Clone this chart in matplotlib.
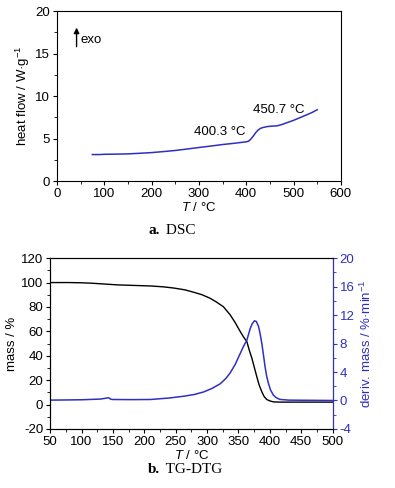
import matplotlib
matplotlib.use("Agg")
import matplotlib.pyplot as plt
from matplotlib.ticker import MultipleLocator

plt.rcParams['font.family'] = ['Liberation Sans', 'DejaVu Sans']
plt.rcParams['mathtext.fontset'] = 'custom'
plt.rcParams['mathtext.rm'] = 'Liberation Sans'
plt.rcParams['mathtext.it'] = 'Liberation Sans:italic'
plt.rcParams['axes.unicode_minus'] = False
plt.rcParams['font.size'] = 9.5

# DSC curve
dsc_t = [75, 90, 100, 125, 150, 175, 200, 225, 250, 275, 300, 325, 350, 375, 390, 400, 405,
         410, 415, 420, 425, 430, 435, 445, 455, 465, 475, 490, 500, 515, 530, 540, 550]
dsc_hf = [3.12, 3.12, 3.15, 3.17, 3.2, 3.27, 3.35, 3.47, 3.6, 3.77, 3.95, 4.12, 4.3, 4.45, 4.55, 4.62, 4.7,
          4.95, 5.3, 5.7, 6.0, 6.2, 6.3, 6.42, 6.47, 6.5, 6.65, 6.95, 7.15, 7.5, 7.85, 8.1, 8.4]

# TG curve (mass %)
tg_t = [50, 80, 100, 115, 130, 157, 180, 210, 230, 247, 265, 279, 292, 305, 315, 326, 337, 345,
        353, 358, 363.5, 367, 371.5, 375, 379.3, 383, 387.3, 391, 395.2, 400, 405.7, 415, 500]
tg_mass = [100, 100, 99.8, 99.5, 99, 98.1, 97.7, 97.2, 96.5, 95.5, 94, 92, 90, 87.1, 84, 80.2, 73.4, 67,
           59.7, 55.5, 51.5, 45, 37.8, 31, 22.7, 16, 10.4, 6.5, 4.1, 3, 2.2, 2.0, 2.0]

# DTG curve (%/min)
dtg_t = [50, 100, 130, 136, 140, 143.7, 146, 149, 180, 210, 240, 263, 280, 294.6, 308, 321, 330,
         337, 345, 352.8, 358, 363.5, 368.7, 372, 375.6, 378.5, 382, 384.5, 387.3, 390, 392.5,
         395, 397.8, 401, 405.7, 410, 416, 430, 500]
dtg_rate = [0.05, 0.1, 0.2, 0.28, 0.35, 0.37, 0.2, 0.14, 0.12, 0.14, 0.35, 0.6, 0.85, 1.2, 1.7, 2.35, 3.1,
            3.9, 5.1, 6.6, 7.6, 8.5, 10.1, 10.8, 11.2, 11.1, 10.4, 9.4, 8.0, 6.3, 4.7,
            3.4, 2.4, 1.5, 0.75, 0.4, 0.15, 0.05, 0.0]

blue = '#2f2fc0'

fig = plt.figure(figsize=(3.95, 4.88), dpi=100)

# ---- a. DSC ----
ax1 = fig.add_axes([0.144, 0.629, 0.719, 0.348])
ax1.plot(dsc_t, dsc_hf, color=blue, lw=1.1)
ax1.set_xlim(0, 600)
ax1.set_ylim(0, 20)
ax1.xaxis.set_major_locator(MultipleLocator(100))
ax1.xaxis.set_minor_locator(MultipleLocator(50))
ax1.yaxis.set_major_locator(MultipleLocator(5))
ax1.yaxis.set_minor_locator(MultipleLocator(2.5))
ax1.tick_params(which='both', direction='out', top=False, right=False)
ax1.tick_params(which='major', length=3, pad=2)
ax1.tick_params(which='minor', length=2)
ax1.set_xlabel('$T$ / °C', labelpad=1)
ax1.set_ylabel('heat flow / W·g$^{-1}$', labelpad=2)
ax1.text(344, 5.8, '400.3 °C', ha='center', va='center')
ax1.text(469, 8.35, '450.7 °C', ha='center', va='center')
ax1.annotate('', xy=(41.6, 18.4), xytext=(41.6, 15.5),
             arrowprops=dict(arrowstyle='-|>', color='black', lw=1, mutation_scale=8))
ax1.text(50, 16.6, 'exo', ha='left', va='center')
fig.text(0.405, 0.528, 'a.', ha='right', va='center', fontsize=11,
         fontweight='bold', family='Liberation Serif')
fig.text(0.41, 0.528, ' DSC', ha='left', va='center', fontsize=11,
         family='Liberation Serif')

# ---- b. TG-DTG ----
ax2 = fig.add_axes([0.127, 0.121, 0.715, 0.350])
ax2.plot(tg_t, tg_mass, color='black', lw=1.0)
ax2.set_xlim(50, 500)
ax2.set_ylim(-20, 120)
ax2.xaxis.set_major_locator(MultipleLocator(50))
ax2.xaxis.set_minor_locator(MultipleLocator(25))
ax2.yaxis.set_major_locator(MultipleLocator(20))
ax2.yaxis.set_minor_locator(MultipleLocator(10))
ax2.tick_params(which='both', direction='out', top=False)
ax2.tick_params(which='major', length=3, pad=2)
ax2.tick_params(which='minor', length=2)
ax2.set_xlabel('$T$ / °C', labelpad=1)
ax2.set_ylabel('mass / %', labelpad=2)

ax3 = ax2.twinx()
ax3.plot(dtg_t, dtg_rate, color=blue, lw=1.1)
ax3.set_ylim(-4, 20)
ax3.yaxis.set_major_locator(MultipleLocator(4))
ax3.yaxis.set_minor_locator(MultipleLocator(2))
ax3.tick_params(which='both', direction='out', colors=blue)
ax3.tick_params(which='major', length=3, pad=2)
ax3.tick_params(which='minor', length=2)
ax3.spines['right'].set_color(blue)
ax3.set_ylabel('deriv. mass / %·min$^{-1}$', color=blue, labelpad=3)
fig.text(0.405, 0.037, 'b.', ha='right', va='center', fontsize=11,
         fontweight='bold', family='Liberation Serif')
fig.text(0.41, 0.037, ' TG-DTG', ha='left', va='center', fontsize=11,
         family='Liberation Serif')

fig.savefig('out.png', dpi=100)
